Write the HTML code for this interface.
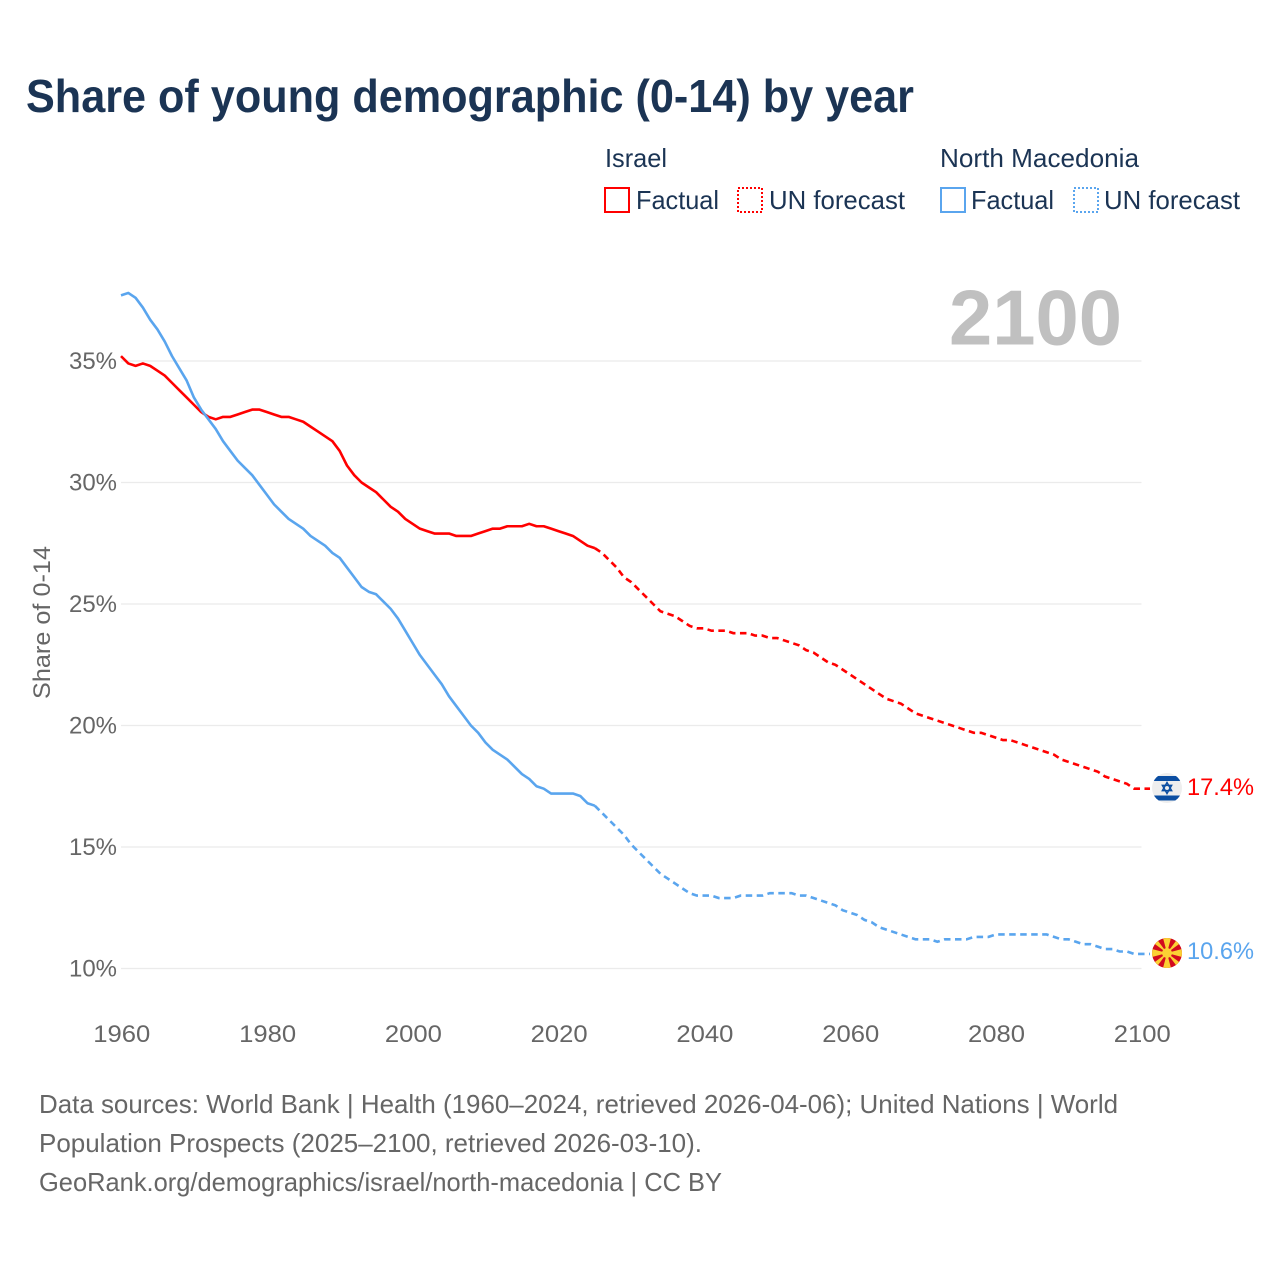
<!DOCTYPE html>
<html lang="en">
<head>
<meta charset="utf-8">
<title>Share of young demographic (0-14) by year</title>
<style>
html,body{margin:0;padding:0;background:#fff;}
svg{display:block;font-family:"Liberation Sans",sans-serif;}
</style>
</head>
<body>
<svg id="chart" width="1280" height="1280" viewBox="0 0 1280 1280" xmlns="http://www.w3.org/2000/svg">
  <rect x="0" y="0" width="1280" height="1280" fill="#ffffff"/>
  <text x="26" y="112" font-size="46" font-weight="700" fill="#1b3454" textLength="888" lengthAdjust="spacingAndGlyphs">Share of young demographic (0-14) by year</text>

  <g font-size="26" fill="#1b3454">
    <text x="605" y="167" textLength="62" lengthAdjust="spacingAndGlyphs">Israel</text>
    <rect x="605" y="188" width="24" height="24" fill="none" stroke="#ff0000" stroke-width="2"/>
    <text x="636" y="209" textLength="83" lengthAdjust="spacingAndGlyphs">Factual</text>
    <rect x="738" y="188" width="24" height="24" fill="none" stroke="#ff0000" stroke-width="2" stroke-dasharray="2 2"/>
    <text x="769" y="209" textLength="136" lengthAdjust="spacingAndGlyphs">UN forecast</text>
    <text x="940" y="167" textLength="199" lengthAdjust="spacingAndGlyphs">North Macedonia</text>
    <rect x="941" y="188" width="24" height="24" fill="none" stroke="#5aa5ee" stroke-width="2"/>
    <text x="971" y="209" textLength="83" lengthAdjust="spacingAndGlyphs">Factual</text>
    <rect x="1074" y="188" width="24" height="24" fill="none" stroke="#5aa5ee" stroke-width="2" stroke-dasharray="2 2"/>
    <text x="1104" y="209" textLength="136" lengthAdjust="spacingAndGlyphs">UN forecast</text>
  </g>

  <g id="grid"></g>
  <g id="yticks" font-size="24" fill="#666666" text-anchor="end"></g>
  <g id="xticks" font-size="24" fill="#666666" text-anchor="middle"></g>
  <text id="year" x="1122" y="344.5" font-size="78" font-weight="700" fill="#c0c0c0" text-anchor="end" textLength="173" lengthAdjust="spacingAndGlyphs">2100</text>
  <text transform="translate(50,699) rotate(-90)" font-size="24" fill="#666666" textLength="153" lengthAdjust="spacingAndGlyphs">Share of 0-14</text>
  <g id="series"></g>

  <defs>
    <clipPath id="clip-il"><circle cx="1167" cy="788" r="15"/></clipPath>
    <clipPath id="clip-mk"><circle cx="1167" cy="953" r="15"/></clipPath>
  </defs>
  <g clip-path="url(#clip-il)">
    <rect x="1150" y="771" width="34" height="34" fill="#eeeeee"/>
    <rect x="1150" y="776" width="34" height="5" fill="#0b4ea2"/>
    <rect x="1150" y="795.5" width="34" height="5" fill="#0b4ea2"/>
    <polygon points="1167,782.5 1171.6,790.6 1162.4,790.6" fill="none" stroke="#0b4ea2" stroke-width="1.5"/>
    <polygon points="1167,793.5 1171.6,785.4 1162.4,785.4" fill="none" stroke="#0b4ea2" stroke-width="1.5"/>
  </g>
  <g clip-path="url(#clip-mk)">
    <rect x="1150" y="936" width="34" height="34" fill="#d20a1e"/>
    <g fill="#fbd034">
      <polygon points="1167,953 1162.5,936 1171.5,936"/>
      <polygon points="1167,953 1162.5,970 1171.5,970"/>
      <polygon points="1167,953 1150,948.5 1150,957.5"/>
      <polygon points="1167,953 1184,948.5 1184,957.5"/>
      <polygon points="1167,953 1149.5,940 1154,935.5"/>
      <polygon points="1167,953 1184.5,940 1180,935.5"/>
      <polygon points="1167,953 1149.5,966 1154,970.5"/>
      <polygon points="1167,953 1184.5,966 1180,970.5"/>
    </g>
    <circle cx="1167" cy="953" r="5" fill="#fbd034"/>
  </g>

  <g font-size="26" fill="#666666">
    <text x="39" y="1113" textLength="1079" lengthAdjust="spacingAndGlyphs">Data sources: World Bank | Health (1960–2024, retrieved 2026-04-06); United Nations | World</text>
    <text x="39" y="1152" textLength="663" lengthAdjust="spacingAndGlyphs">Population Prospects (2025–2100, retrieved 2026-03-10).</text>
    <text x="39" y="1191" textLength="683" lengthAdjust="spacingAndGlyphs">GeoRank.org/demographics/israel/north-macedonia | CC BY</text>
  </g>
</svg>
<script>
const yTickValues = [10, 15, 20, 25, 30, 35];
const xTickValues = [1960, 1980, 2000, 2020, 2040, 2060, 2080, 2100];
const factualStartYear = 1960;
const forecastStartYear = 2025;
const israelFactual = [35.2,34.9,34.8,34.9,34.8,34.6,34.4,34.1,33.8,33.5,33.2,32.9,32.7,32.6,32.7,32.7,32.8,32.9,33.0,33.0,32.9,32.8,32.7,32.7,32.6,32.5,32.3,32.1,31.9,31.7,31.3,30.7,30.3,30.0,29.8,29.6,29.3,29.0,28.8,28.5,28.3,28.1,28.0,27.9,27.9,27.9,27.8,27.8,27.8,27.9,28.0,28.1,28.1,28.2,28.2,28.2,28.3,28.2,28.2,28.1,28.0,27.9,27.8,27.6,27.4,27.3];
const israelForecast = [27.3,27.1,26.8,26.5,26.1,25.9,25.6,25.3,25.0,24.7,24.6,24.5,24.3,24.1,24.0,24.0,23.9,23.9,23.9,23.8,23.8,23.8,23.7,23.7,23.6,23.6,23.5,23.4,23.3,23.1,23.0,22.8,22.6,22.5,22.3,22.1,21.9,21.7,21.5,21.3,21.1,21.0,20.9,20.7,20.5,20.4,20.3,20.2,20.1,20.0,19.9,19.8,19.7,19.7,19.6,19.5,19.4,19.4,19.3,19.2,19.1,19.0,18.9,18.8,18.6,18.5,18.4,18.3,18.2,18.1,17.9,17.8,17.7,17.6,17.4,17.4];
const macedoniaFactual = [37.7,37.8,37.6,37.2,36.7,36.3,35.8,35.2,34.7,34.2,33.5,33.0,32.6,32.2,31.7,31.3,30.9,30.6,30.3,29.9,29.5,29.1,28.8,28.5,28.3,28.1,27.8,27.6,27.4,27.1,26.9,26.5,26.1,25.7,25.5,25.4,25.1,24.8,24.4,23.9,23.4,22.9,22.5,22.1,21.7,21.2,20.8,20.4,20.0,19.7,19.3,19.0,18.8,18.6,18.3,18.0,17.8,17.5,17.4,17.2,17.2,17.2,17.2,17.1,16.8,16.7];
const macedoniaForecast = [16.7,16.4,16.1,15.8,15.5,15.1,14.8,14.5,14.2,13.9,13.7,13.5,13.3,13.1,13.0,13.0,13.0,12.9,12.9,12.9,13.0,13.0,13.0,13.0,13.1,13.1,13.1,13.1,13.0,13.0,12.9,12.8,12.7,12.6,12.4,12.3,12.2,12.0,11.9,11.7,11.6,11.5,11.4,11.3,11.2,11.2,11.2,11.1,11.2,11.2,11.2,11.2,11.3,11.3,11.3,11.4,11.4,11.4,11.4,11.4,11.4,11.4,11.4,11.3,11.2,11.2,11.1,11.0,11.0,10.9,10.8,10.8,10.7,10.7,10.6,10.6];

const NS = 'http://www.w3.org/2000/svg';
function xScale(year) { return 121 + (year - 1960) * (1141.5 - 121) / 140; }
function yScale(pct) { return 968.5 - (pct - 10) * 24.3; }
function make(tag, parent, attrs) {
  const el = document.createElementNS(NS, tag);
  Object.keys(attrs).forEach(function (k) { el.setAttribute(k, attrs[k]); });
  parent.appendChild(el);
  return el;
}
function buildPath(values, startYear) {
  return values.map(function (v, i) {
    return (i ? 'L' : 'M') + xScale(startYear + i).toFixed(2) + ' ' + yScale(v).toFixed(2);
  }).join(' ');
}

const grid = document.getElementById('grid');
const yticks = document.getElementById('yticks');
yTickValues.forEach(function (t) {
  const line = make('line', grid, { x1: xScale(1960), x2: xScale(2100), y1: yScale(t), y2: yScale(t), stroke: '#ebebeb', 'stroke-width': 1.2 });
  
  
  const label = make('text', yticks, { x: 117, y: yScale(t) + 8, textLength: 48, lengthAdjust: 'spacingAndGlyphs' });
  label.textContent = t + '%';
  
  
});

const xticks = document.getElementById('xticks');
xTickValues.forEach(function (t) {
  const label = make('text', xticks, { x: xScale(t) + 0.8, y: 1042, textLength: 57, lengthAdjust: 'spacingAndGlyphs' });
  label.textContent = String(t);
  
  
});

const series = document.getElementById('series');
const redColor = '#ff0000';
const blueColor = '#5aa5ee';

const ilFactualLine = make('path', series, { d: buildPath(israelFactual, factualStartYear), fill: 'none', stroke: redColor, 'stroke-width': 2.6, 'stroke-linejoin': 'round' });



const mkFactualLine = make('path', series, { d: buildPath(macedoniaFactual, factualStartYear), fill: 'none', stroke: blueColor, 'stroke-width': 2.6, 'stroke-linejoin': 'round' });



const ilLastY = yScale(israelForecast[israelForecast.length - 1]);
const ilForecastLine = make('path', series, { d: buildPath(israelForecast, forecastStartYear) + ' L1150 ' + ilLastY.toFixed(2), fill: 'none', stroke: redColor, 'stroke-width': 2.6, 'stroke-dasharray': '6.5 4.5' });



const mkLastY = yScale(macedoniaForecast[macedoniaForecast.length - 1]);
const mkForecastLine = make('path', series, { d: buildPath(macedoniaForecast, forecastStartYear) + ' L1150 ' + mkLastY.toFixed(2), fill: 'none', stroke: blueColor, 'stroke-width': 2.6, 'stroke-dasharray': '6.5 4.5' });



const ilValue = make('text', series, { x: 1187, y: 795, 'font-size': 24, fill: redColor, textLength: 67, lengthAdjust: 'spacingAndGlyphs' });
ilValue.textContent = israelForecast[israelForecast.length - 1].toFixed(1) + '%';



const mkValue = make('text', series, { x: 1187, y: 959, 'font-size': 24, fill: blueColor, textLength: 67, lengthAdjust: 'spacingAndGlyphs' });
mkValue.textContent = macedoniaForecast[macedoniaForecast.length - 1].toFixed(1) + '%';


</script>
</body>
</html>
